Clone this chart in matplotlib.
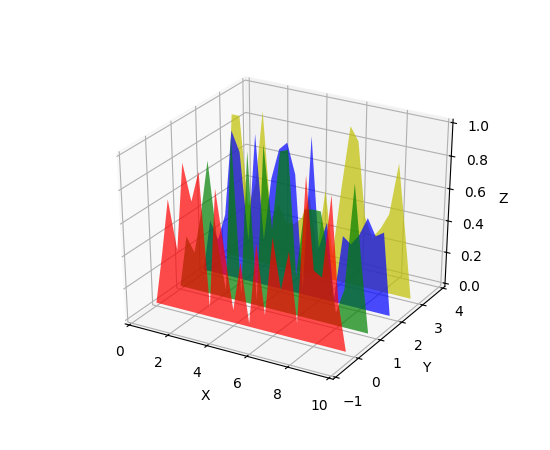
import matplotlib
matplotlib.use('Agg')
import matplotlib.pyplot as plt
import numpy as np
from matplotlib.collections import PolyCollection

# values, one list per y level
xs = np.arange(0, 10, 0.4)
red = [0, 0.32, 0.67, 0.37, 0.91, 0.69, 0.88, 0.06, 0.80, 0.44, 0.08, 0.39, 0.02,
       0.53, 0.10, 0.59, 0.28, 0.53, 0.10, 1.00, 0.45, 0.42, 0.92, 0.29, 0]
green = [0, 0.33, 0.24, 0.50, 0.83, 0.35, 0.05, 1.00, 0.05, 0.94, 0.03, 1.00, 0.50,
         0.98, 1.00, 0.25, 0.67, 0.68, 0.68, 0.40, 0.08, 0.24, 0.89, 0.42, 0]
blue = [0, 0.33, 0.22, 0.39, 0.92, 0.80, 0.26, 0.93, 0.29, 0.68, 0.87, 0.92, 0.74,
        0.03, 0.99, 0.32, 0.49, 0.02, 0.43, 0.39, 0.46, 0.575, 0.475, 0.51, 0]
yellow = [0, 0.90, 0.90, 0.35, 0.50, 0.96, 0.30, 0.40, 0.30, 0.30, 0.35, 0.50, 0.15,
          0.56, 0.16, 0.59, 0.98, 0.90, 0.45, 0.33, 0.40, 0.50, 0.82, 0.42, 0]
zs = [0, 1, 2, 3]
colors = ['r', 'g', 'b', 'y']

fig = plt.figure(figsize=(5.5, 4.5), dpi=100)
ax = fig.add_subplot(projection='3d')

# the reference box is a unit cube stretched to the whole axes rectangle
ax.apply_aspect = lambda position=None: None
ax.set_box_aspect((1, 1, 1), zoom=0.9467)

verts = [list(zip(xs, s)) for s in [red, green, blue, yellow]]
poly = PolyCollection(verts, facecolors=colors, alpha=0.7)
ax.add_collection3d(poly, zs=zs, zdir='y')

ax.set_xlabel('X')
ax.set_xlim3d(0, 10, view_margin=1/48)
ax.set_ylabel('Y')
ax.set_ylim3d(-1, 4, view_margin=1/48)
ax.set_zlabel('Z')
ax.set_zlim3d(0, 1, view_margin=1/48)

# no visible outline around the walls
for axis in [ax.xaxis, ax.yaxis, ax.zaxis]:
    axis.pane.set_edgecolor((0.95, 0.95, 0.95, 0.5))

plt.savefig('out.png')
